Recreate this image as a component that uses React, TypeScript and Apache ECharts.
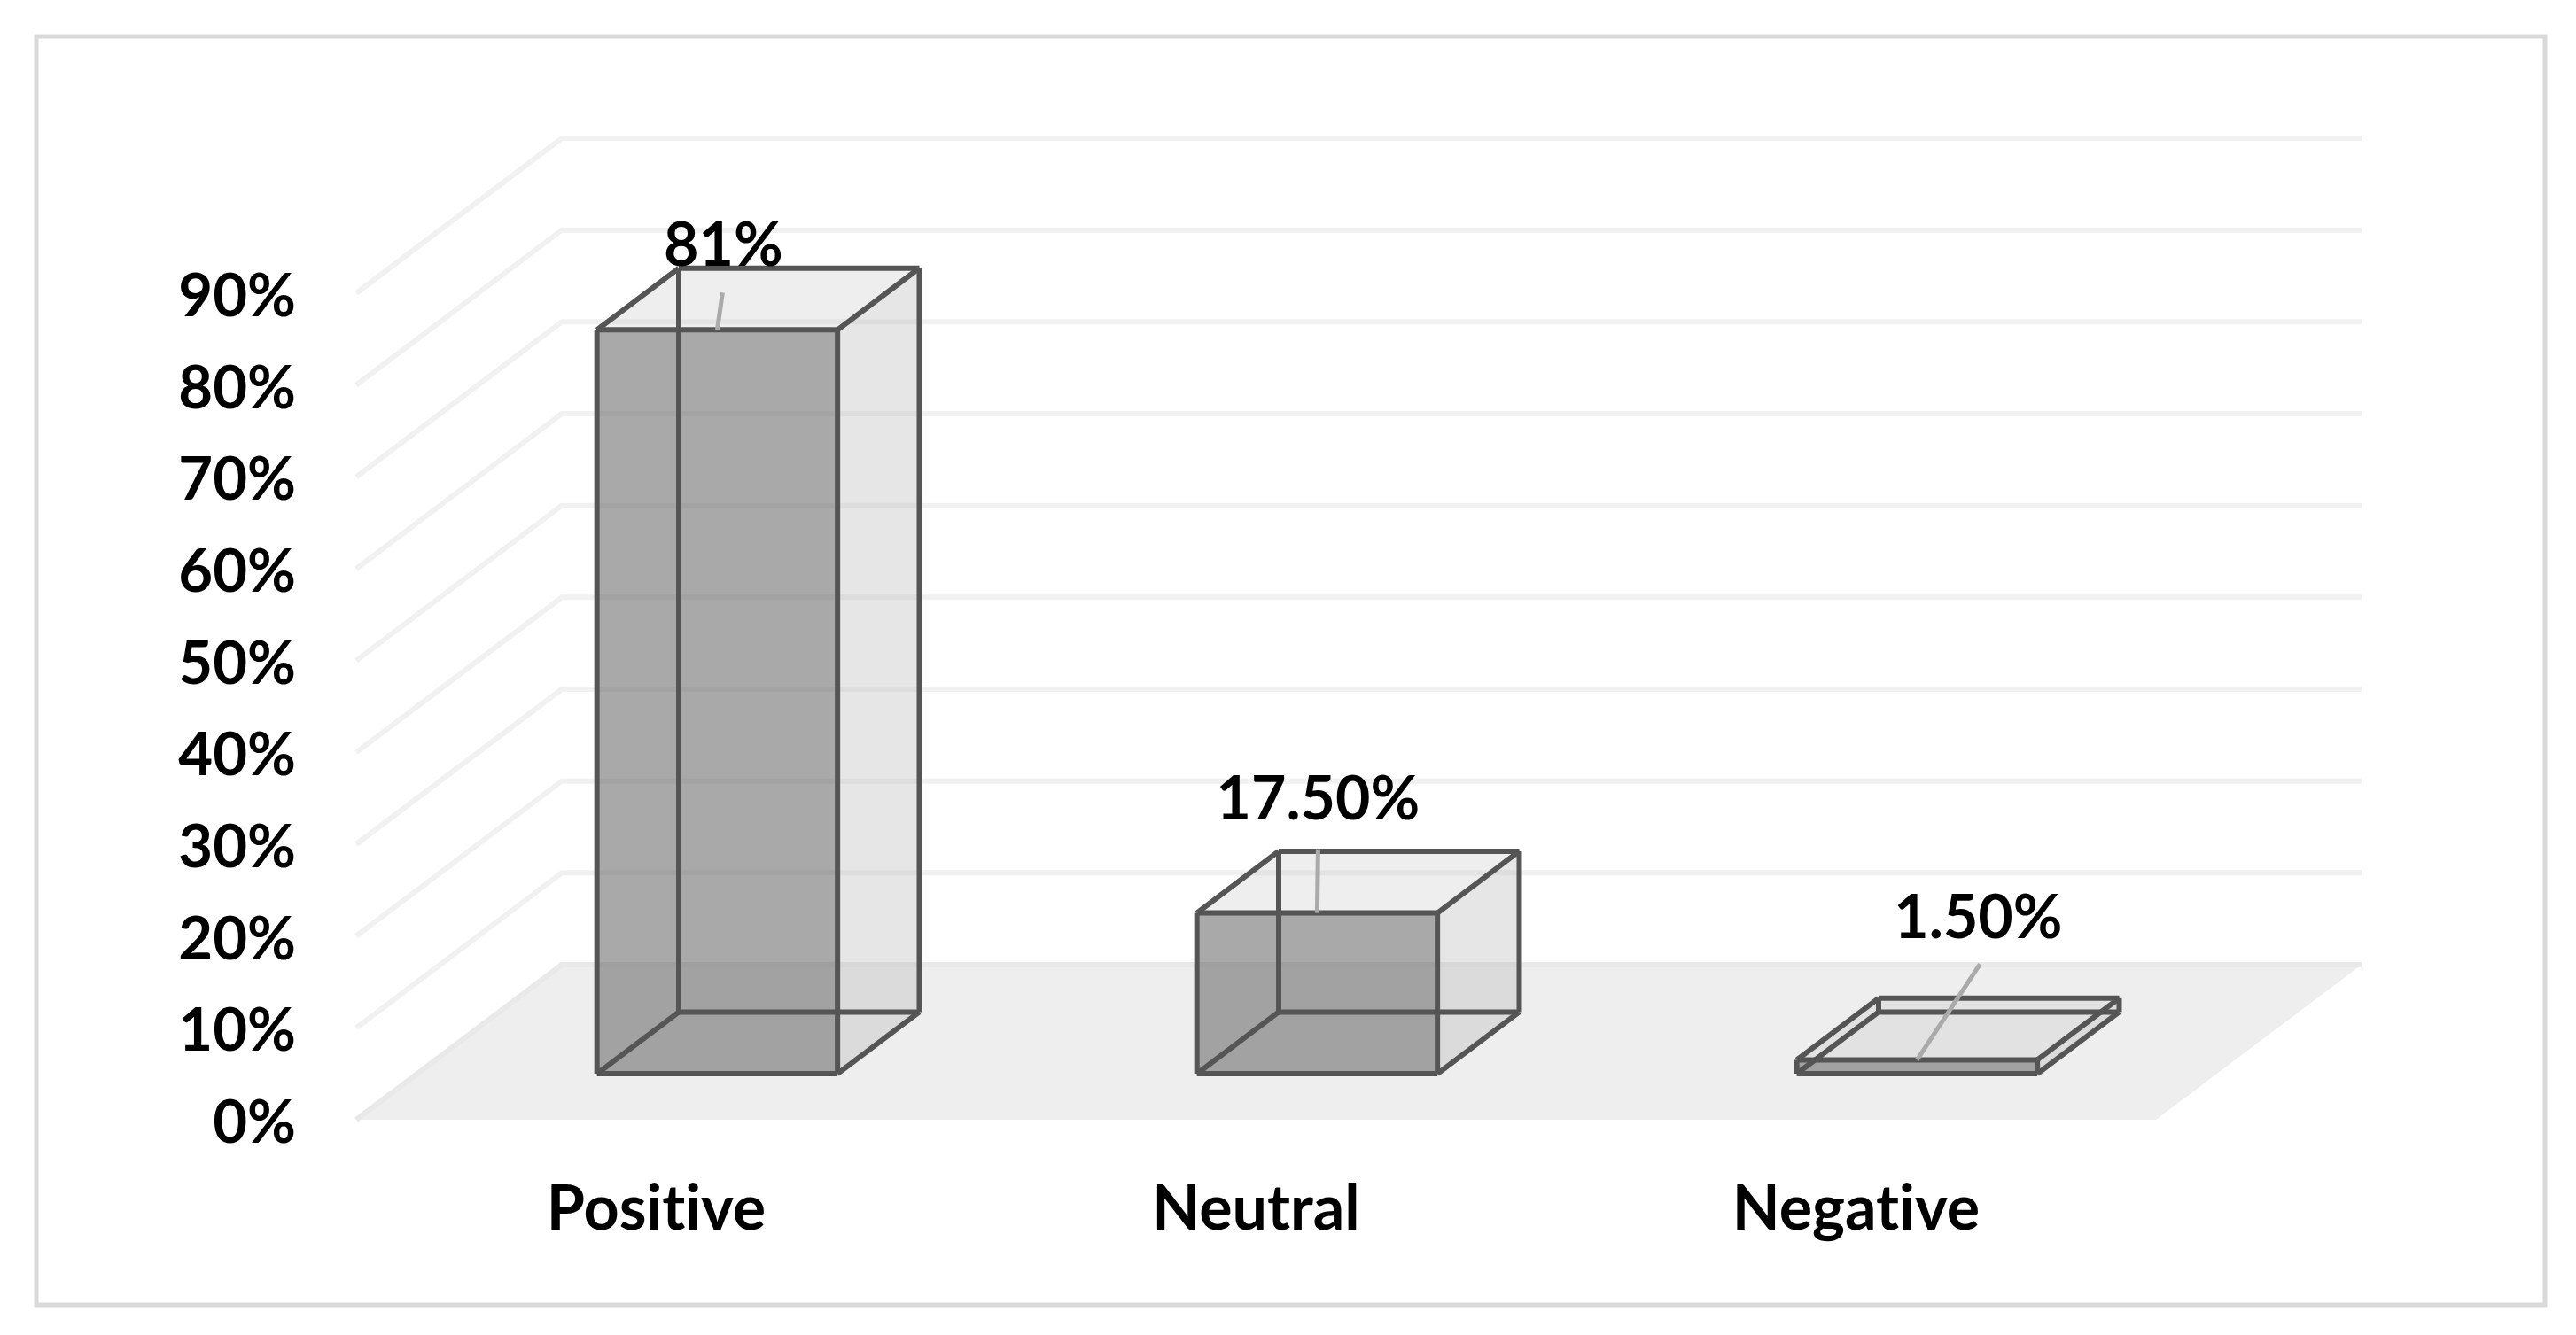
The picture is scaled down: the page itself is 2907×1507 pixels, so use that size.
import React, { useEffect, useRef } from "react";
import * as echarts from "echarts";

const categories = ["Positive", "Neutral", "Negative"];
const sentimentValues = [81, 17.5, 1.5];
const valueLabels = ["81%", "17.50%", "1.50%"];
const axisTicks = [0, 10, 20, 30, 40, 50, 60, 70, 80, 90];

// layout: label offsets from the front-top-centre of each bar
const labelOffsets = [[7, -99], [1, -132], [69, -164]];
const leaderStarts = [[6, -42], [1, -72], [71, -108]];

const FONT = "Lato, Carlito, 'Noto Sans', sans-serif";
const VALUE_FONT_SIZE = 68;
const TICK_FONT_SIZE = 67;
const CATEGORY_FONT_SIZE = 70;
const DEPTH_X = 232;
const DEPTH_Y = -175;
const BAR_NEAR = 0.297;
const BAR_FAR = 0.695;
const BAR_WIDTH = 0.401;
const EDGE = "#555555";

export default function App() {
  const ref = useRef<HTMLDivElement>(null);
  useEffect(() => {
    const chart = echarts.init(ref.current!, null, { renderer: "svg" });

    const renderWall = (params: any, api: any) => {
      const v = api.value(1);
      const p = api.coord([0, v]);
      const cs = params.coordSys;
      const left = cs.x;
      const right = cs.x + cs.width;
      const y = p[1];
      const children: any[] = [];
      if (v === 0) {
        children.push({
          type: "polygon",
          shape: {
            points: [
              [left, y],
              [left + DEPTH_X, y + DEPTH_Y],
              [right + DEPTH_X, y + DEPTH_Y],
              [right, y],
            ],
          },
          style: { fill: "#eeeeee" },
        });
      }
      children.push({
        type: "polyline",
        shape: {
          points: [
            [left, y],
            [left + DEPTH_X, y + DEPTH_Y],
            [right + DEPTH_X, y + DEPTH_Y],
          ],
        },
        style: { fill: "none", stroke: v === 0 ? "#e9e9e9" : "#f1f1f1", lineWidth: 6 },
      });
      return { type: "group", children };
    };

    const renderBar = (params: any, api: any) => {
      const i = api.value(0);
      const v = api.value(1);
      const top = api.coord([i, v]);
      const base = api.coord([i, 0]);
      const w = api.size([1, 0])[0] * BAR_WIDTH;
      const nx = DEPTH_X * BAR_NEAR;
      const ny = DEPTH_Y * BAR_NEAR;
      const fx = DEPTH_X * BAR_FAR;
      const fy = DEPTH_Y * BAR_FAR;
      const x0 = top[0] - w / 2;
      const x1 = top[0] + w / 2;
      // front face corners
      const ftl = [x0 + nx, top[1] + ny];
      const ftr = [x1 + nx, top[1] + ny];
      const fbl = [x0 + nx, base[1] + ny];
      const fbr = [x1 + nx, base[1] + ny];
      // back face corners
      const btl = [x0 + fx, top[1] + fy];
      const btr = [x1 + fx, top[1] + fy];
      const bbl = [x0 + fx, base[1] + fy];
      const bbr = [x1 + fx, base[1] + fy];
      const edges = [
        [btl, btr], [bbl, bbr], [btl, bbl], [btr, bbr],
        [ftl, btl], [ftr, btr], [fbl, bbl], [fbr, bbr],
        [ftl, ftr], [fbl, fbr], [ftl, fbl], [ftr, fbr],
      ];
      const cx = top[0] + nx;
      const cy = top[1] + ny;
      const idx = params.dataIndex;
      const children: any[] = [
        { type: "polygon", shape: { points: [ftl, ftr, fbr, fbl] }, style: { fill: "rgba(102,102,102,0.56)" } },
        { type: "polygon", shape: { points: [ftr, btr, bbr, fbr] }, style: { fill: "rgba(182,182,182,0.34)" } },
        { type: "polygon", shape: { points: [ftl, btl, btr, ftr] }, style: { fill: "rgba(200,200,200,0.3)" } },
        ...edges.map((e) => ({
          type: "polyline",
          shape: { points: e },
          style: { fill: "none", stroke: EDGE, lineWidth: 6, lineJoin: "round" },
        })),
        {
          type: "line",
          shape: {
            x1: cx + leaderStarts[idx][0],
            y1: cy + leaderStarts[idx][1],
            x2: cx,
            y2: cy,
          },
          style: { stroke: "#aaaaaa", lineWidth: 5 },
        },
        {
          type: "text",
          style: {
            x: cx + labelOffsets[idx][0],
            y: cy + labelOffsets[idx][1],
            text: valueLabels[idx],
            fill: "#000000",
            font: `bold ${VALUE_FONT_SIZE}px ${FONT}`,
            align: "center",
            verticalAlign: "middle",
          },
        },
      ];
      return { type: "group", children };
    };

    chart.setOption({
      animation: false,
      backgroundColor: "#ffffff",
      graphic: [
        {
          type: "rect",
          shape: { x: 41, y: 41, width: 2831, height: 1432 },
          style: { fill: "none", stroke: "#d9d9d9", lineWidth: 5 },
          silent: true,
          z: -1,
        },
      ],
      grid: { left: 402, top: 331, width: 2031, height: 933, containLabel: false },
      xAxis: {
        type: "category",
        data: categories,
        axisLine: { show: false },
        axisTick: { show: false },
        axisLabel: { color: "#000", fontFamily: FONT, fontWeight: "bold", fontSize: CATEGORY_FONT_SIZE, margin: 62 },
      },
      yAxis: {
        type: "value",
        min: 0,
        max: 90,
        interval: 10,
        axisLine: { show: false },
        axisTick: { show: false },
        splitLine: { show: false },
        axisLabel: {
          color: "#000",
          fontFamily: FONT,
          fontWeight: "bold",
          fontSize: TICK_FONT_SIZE,
          margin: 68,
          padding: [5, 0, 0, 0],
          formatter: "{value}%",
        },
      },
      series: [
        {
          type: "custom",
          name: "walls",
          silent: true,
          renderItem: renderWall,
          clip: false,
          data: axisTicks.map((t) => [0, t]),
          encode: { x: 0, y: 1 },
        },
        {
          type: "custom",
          name: "Sentiment",
          renderItem: renderBar,
          clip: false,
          data: sentimentValues.map((v, i) => [i, v]),
          encode: { x: 0, y: 1 },
        },
      ],
    });
    return () => chart.dispose();
  }, []);
  return (
    <div
      ref={ref}
      style={{
        position: "absolute",
        left: 0,
        top: 0,
        width: 2907,
        height: 1507,
        fontVariantLigatures: "none",
      }}
    />
  );
}
